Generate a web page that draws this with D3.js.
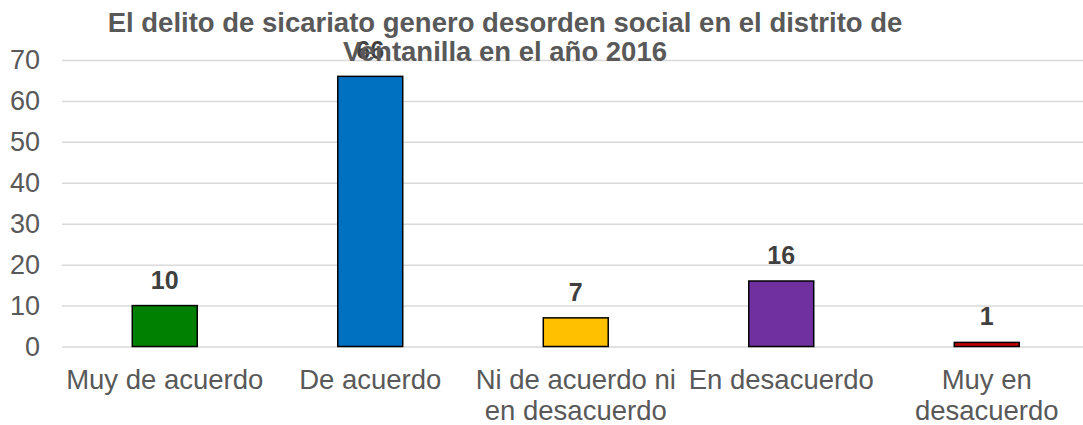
<!DOCTYPE html>
<html>
<head>
<meta charset="utf-8">
<script src="https://cdn.jsdelivr.net/npm/d3@7"></script>
<style>
  body { margin: 0; background: #fff; }
  svg { font-family: Arial, "Liberation Sans", sans-serif; }
</style>
</head>
<body>
<div id="container"></div>
<script>
const categories = ['Muy de acuerdo', 'De acuerdo', 'Ni de acuerdo ni en desacuerdo', 'En desacuerdo', 'Muy en desacuerdo'];
const categoryLines = [['Muy de acuerdo'], ['De acuerdo'], ['Ni de acuerdo ni', 'en desacuerdo'], ['En desacuerdo'], ['Muy en', 'desacuerdo']];
const values = [10, 66, 7, 16, 1];
const barColors = ['#008000', '#0070C0', '#FFC000', '#7030A0', '#C00000'];
const yTicks = [0, 10, 20, 30, 40, 50, 60, 70];
const titleLines = ['El delito de sicariato genero desorden social en el distrito de', 'Ventanilla en el año 2016'];

document.addEventListener('DOMContentLoaded', () => {
  const w = 1083;
  const h = 425;

  const svg = d3.select('#container')
    .append('svg')
    .attr('width', w)
    .attr('height', h);

  const x = d3.scaleBand()
    .domain(categories)
    .range([62, 1089.5])
    .paddingInner(0.684)
    .paddingOuter(0.342);

  const y = d3.scaleLinear()
    .domain([0, 70])
    .range([346.5, 60]);

  // gridlines + y labels
  const yAxis = svg.append('g')
    .attr('transform', 'translate(62,0)')
    .call(d3.axisLeft(y).tickValues(yTicks).tickSize(-(w - 62)).tickPadding(22));
  yAxis.select('.domain').remove();
  yAxis.selectAll('.tick line').attr('stroke', '#d9d9d9').attr('stroke-width', 1.5);
  yAxis.selectAll('.tick text')
    .attr('fill', '#595959')
    .style('font-size', '27px')
    .style('font-family', 'Arial, "Liberation Sans", sans-serif');

  // bars
  svg.append('g')
    .selectAll('rect')
    .data(values)
    .enter()
    .append('rect')
    .attr('x', (d, i) => x(categories[i]))
    .attr('width', x.bandwidth())
    .attr('y', d => y(d))
    .attr('height', d => y(0) - y(d))
    .attr('fill', (d, i) => barColors[i])
    .attr('stroke', '#000')
    .attr('stroke-width', 1.5);

  // value labels
  svg.append('g')
    .selectAll('text')
    .data(values)
    .enter()
    .append('text')
    .attr('x', (d, i) => x(categories[i]) + x.bandwidth() / 2)
    .attr('y', d => y(d) - 17)
    .attr('text-anchor', 'middle')
    .attr('fill', '#404040')
    .style('font-size', '25px')
    .style('font-weight', 'bold')
    .text(d => d);

  // category labels
  const xl = svg.append('g')
    .selectAll('text')
    .data(categoryLines)
    .enter()
    .append('text')
    .attr('text-anchor', 'middle')
    .attr('fill', '#595959')
    .style('font-size', '27.5px')
    .attr('transform', (d, i) => `translate(${x(categories[i]) + x.bandwidth() / 2},389)`);
  xl.selectAll('tspan')
    .data(d => d)
    .enter()
    .append('tspan')
    .attr('x', 0)
    .attr('y', (d, i) => i * 31)
    .text(d => d);

  // title
  svg.append('text')
    .attr('text-anchor', 'middle')
    .attr('fill', '#595959')
    .style('font-size', '27.5px')
    .style('font-weight', 'bold')
    .selectAll('tspan')
    .data(titleLines)
    .enter()
    .append('tspan')
    .attr('x', 505)
    .attr('y', (d, i) => 32 + i * 29)
    .text(d => d);
});
</script>
</body>
</html>
